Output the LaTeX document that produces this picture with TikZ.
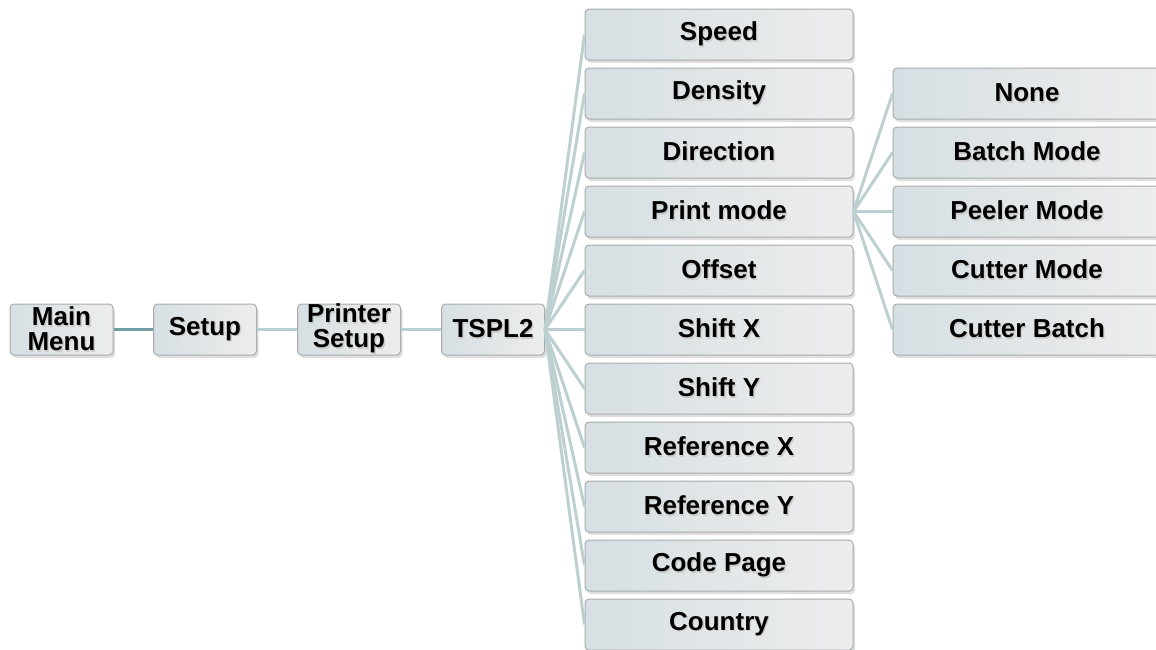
\documentclass[tikz,border=0pt]{standalone}
\usepackage{fontspec}
\setmainfont{Liberation Sans}
\usetikzlibrary{shadows}
\definecolor{boxborder}{HTML}{A8ABAD}
\definecolor{boxleft}{HTML}{D6DFE3}
\definecolor{boxright}{HTML}{EDEDED}
\definecolor{linklight}{HTML}{BDD0D1}
\definecolor{linkdark}{HTML}{739EA4}
\newcommand\shtext[1]{\leavevmode\rlap{\kern1.3pt\raisebox{-1.7pt}{\textcolor{black!20}{#1}}}#1}
\tikzset{
  menubox/.style={draw=boxborder, line width=1pt, rounded corners=4pt,
    left color=boxleft, right color=boxright,
    drop shadow={opacity=0.25, shadow xshift=2pt, shadow yshift=-3pt},
    minimum height=51pt, inner sep=0pt, align=center,
    font=\fontsize{26}{25}\selectfont\bfseries},
  smallbox/.style={menubox, minimum width=103pt},
  widebox/.style={menubox, minimum width=268pt},
  link/.style={draw=linklight, line width=3pt},
  darklink/.style={draw=linkdark, line width=3pt}
}
\begin{document}
\begin{tikzpicture}[x=1pt,y=-1pt]
\useasboundingbox (0,0) rectangle (1156,649);
\node[smallbox] (mm) at (61.5,329.5) {\shtext{Main}\\\shtext{Menu}};
\node[smallbox] (su) at (205,329.5) {\shtext{Setup}};
\node[smallbox] (ps) at (349,329.5) {\shtext{Printer}\\\shtext{Setup}};
\node[smallbox] (ts) at (493,329.5) {\shtext{TSPL2}};
\foreach \n/\t [count=\i from 0] in {c1/Speed,c2/Density,c3/Direction,c4/Print mode,c5/Offset,c6/Shift X,c7/Shift Y,c8/Reference X,c9/Reference Y,c10/Code Page,c11/Country}
  \node[widebox] (\n) at (719,34.5+59*\i) {\shtext{\t}};
\foreach \n/\t [count=\i from 1] in {d1/None,d2/Batch Mode,d3/Peeler Mode,d4/Cutter Mode,d5/Cutter Batch}
  \node[widebox] (\n) at (1027,34.5+59*\i) {\shtext{\t}};
\draw[darklink] (mm.east) -- (su.west);
\draw[link] (su.east) -- (ps.west);
\draw[link] (ps.east) -- (ts.west);
\foreach \n in {c1,c2,c3,c4,c5,c6,c7,c8,c9,c10,c11}
  \draw[link] (ts.east) -- (\n.west);
\foreach \n in {d1,d2,d3,d4,d5}
  \draw[link] (c4.east) -- (\n.west);
\end{tikzpicture}
\end{document}
